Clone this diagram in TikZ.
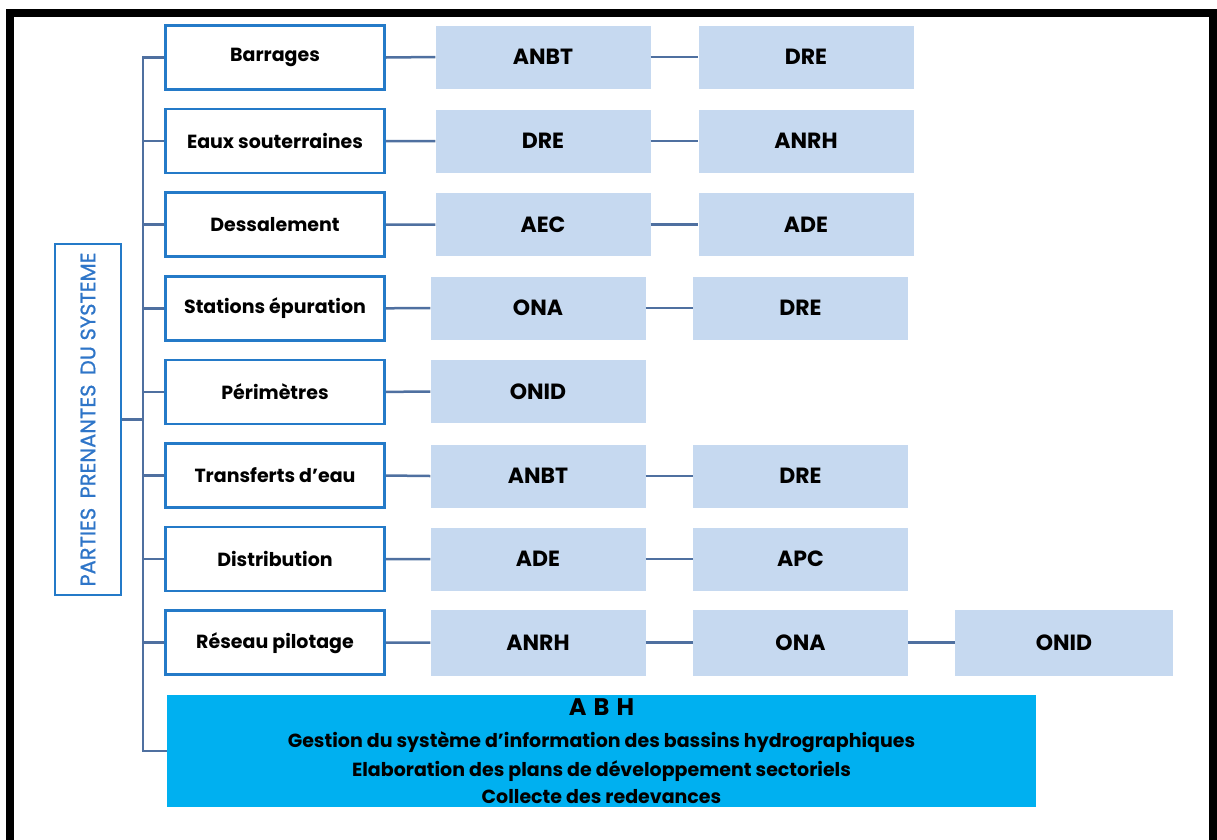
\documentclass[tikz,border=0pt]{standalone}
\usepackage{fontspec}
\setmainfont{Poppins}
\definecolor{catblue}{RGB}{36,122,200}
\definecolor{connblue}{RGB}{79,112,160}
\definecolor{lightbox}{RGB}{198,217,240}
\definecolor{abhblue}{RGB}{0,176,240}
\definecolor{vtext}{RGB}{46,117,200}
\begin{document}
\begin{tikzpicture}[x=1pt,y=-1pt,
  catbox/.style={draw=catblue,line width=2.5pt,fill=white,minimum width=219pt,minimum height=64pt,inner sep=0pt,font=\bfseries\fontsize{19}{22}\selectfont},
  orgbox/.style={fill=lightbox,minimum width=215pt,minimum height=63pt,inner sep=0pt,font=\bfseries\fontsize{22}{25}\selectfont},
  conn/.style={draw=connblue,line width=2.5pt},
  frameline/.style={draw=black,line width=8pt}]
\useasboundingbox (0,0) rectangle (1217,839);
\draw[frameline] (9.7,845) -- (9.7,12.8) -- (1212.5,12.8) -- (1212.5,845);

% left box
\node[draw=catblue,line width=2.5pt,minimum width=66pt,minimum height=351pt,inner sep=0pt] (left) at (88,419.5) {};
\node[rotate=90,text=vtext,font=\fontsize{21}{24}\selectfont\addfontfeatures{FakeBold=0.8},inner sep=0pt] (lefttext) at (left.center) {PARTIES\hspace{0.45em}PRENANTES\hspace{0.45em}DU SYSTEME};

% category boxes
\node[catbox] (c1) at (275,57.5) {Barrages};
\node[catbox] (c2) at (275,141.1) {Eaux souterraines};
\node[catbox] (c3) at (275,224.7) {Dessalement};
\node[catbox] (c4) at (275,308.3) {Stations épuration};
\node[catbox] (c5) at (275,391.9) {Périmètres};
\node[catbox] (c6) at (275,475.5) {Transferts d'eau};
\node[catbox] (c7) at (275,559.1) {Distribution};
\node[catbox] (c8) at (275,642.7) {Réseau pilotage};

% organisation boxes
\node[orgbox] (r1a) at (543,57) {ANBT};
\node[orgbox] (r1b) at (806,57) {DRE};
\node[orgbox] (r2a) at (543,141) {DRE};
\node[orgbox] (r2b) at (806,141) {ANRH};
\node[orgbox] (r3a) at (543,224.5) {AEC};
\node[orgbox] (r3b) at (806,224.5) {ADE};
\node[orgbox] (r4a) at (538,308) {ONA};
\node[orgbox] (r4b) at (800.5,308) {DRE};
\node[orgbox] (r5a) at (538,391.5) {ONID};
\node[orgbox] (r6a) at (538,476) {ANBT};
\node[orgbox] (r6b) at (800.5,476) {DRE};
\node[orgbox] (r7a) at (538,559) {ADE};
\node[orgbox] (r7b) at (800.5,559) {APC};
\node[orgbox,minimum height=66pt] (r8a) at (538,642.5) {ANRH};
\node[orgbox,minimum height=66pt] (r8b) at (800.5,642.5) {ONA};
\node[orgbox,minimum height=66pt,minimum width=218pt] (r8c) at (1064,642.5) {ONID};

% ABH box
\node[fill=abhblue,minimum width=869pt,minimum height=112pt,inner sep=0pt,align=center,font=\bfseries\fontsize{19}{28}\selectfont] (abh) at (601.5,751) {{\fontsize{24}{26}\selectfont A\hspace{0.3em}B\hspace{0.3em}H}\\[4pt]
Gestion du système d’information des bassins hydrographiques\\[1pt]
Elaboration des plans de développement sectoriels\\[-1pt]
Collecte des redevances};

% bus
\coordinate (bt) at (143,57.5);
\coordinate (bb) at (143,751);
\draw[conn] (c1.west) -- (bt) -- (bb) -- (abh.west);
\foreach \i in {2,...,8} {\draw[conn] (bt |- c\i.west) -- (c\i.west);}
\draw[conn] (left.east) -- (bt |- left.east);

% row connectors
\foreach \i in {1,2,3,4,6,7,8} {\draw[conn] (c\i.east) -- (r\i a.west); \draw[conn] (r\i a.east) -- (r\i b.west);}
\draw[conn] (c5.east) -- (r5a.west);
\draw[conn] (r8b.east) -- (r8c.west);
\end{tikzpicture}
\end{document}
